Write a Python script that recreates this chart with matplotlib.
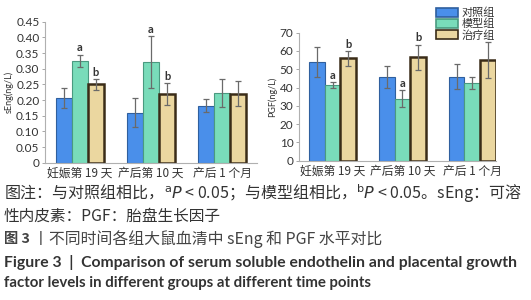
import matplotlib
matplotlib.use("Agg")
import matplotlib.pyplot as plt
from matplotlib.patches import Patch
import numpy as np

plt.rcParams['font.family'] = ['Noto Sans CJK SC', 'DejaVu Sans']

groups = ['对照组', '模型组', '治疗组']
timepoints = ['妊娠第 19 天', '产后第 10 天', '产后 1 个月']

seng_mean = {'对照组': [0.205, 0.160, 0.182],
             '模型组': [0.325, 0.320, 0.222],
             '治疗组': [0.250, 0.220, 0.220]}
seng_err = {'对照组': [0.032, 0.047, 0.020],
            '模型组': [0.020, 0.083, 0.045],
            '治疗组': [0.017, 0.035, 0.040]}
seng_sig = {'模型组': ['a', 'a', ''], '治疗组': ['b', 'b', '']}

pgf_mean = {'对照组': [54.0, 46.0, 46.0],
            '模型组': [41.5, 34.0, 42.5],
            '治疗组': [56.0, 56.5, 55.0]}
pgf_err = {'对照组': [8.0, 6.0, 7.0],
           '模型组': [1.5, 4.5, 3.5],
           '治疗组': [4.0, 7.0, 10.0]}
pgf_sig = {'模型组': ['a', 'a', ''], '治疗组': ['b', 'b', '']}

seng_ticks = [0, 0.05, 0.10, 0.15, 0.20, 0.25, 0.30, 0.35, 0.40, 0.45]
seng_ticklabels = ['0', '0.05', '0.10', '0.15', '0.20', '0.25', '0.30', '0.35', '0.40', '0.45']
pgf_ticks = [0, 10, 20, 30, 40, 50, 60, 70]

face = {'对照组': '#4a8fea', '模型组': '#79dcba', '治疗组': '#ebd7a0'}
edge = {'对照组': '#2f5f9e', '模型组': '#4a9a80', '治疗组': '#3a2c18'}
lw = {'对照组': 0.8, '模型组': 0.8, '治疗组': 1.8}

W, H = 531, 300
fig = plt.figure(figsize=(W / 100, H / 100), dpi=100)

def fx(px):
    return px / W

def fy(py):
    return 1 - py / H

axL = fig.add_axes([fx(45), fy(162.7), fx(257 - 45), (162.7 - 21.7) / H])
axR = fig.add_axes([fx(299), fy(160.7), fx(496 - 299), (160.7 - 32.7) / H])

bw = 0.225
offsets = [-bw, 0, bw]
txtcol = '#333333'

def draw(ax, mean, err, sig, ylim, yticks, yticklabels, ylabel, xlim, sigpad):
    x = np.arange(len(timepoints))
    for g, off in zip(groups, offsets):
        ax.bar(x + off, mean[g], bw, color=face[g], edgecolor=edge[g], linewidth=lw[g], zorder=2)
        ax.errorbar(x + off, mean[g], yerr=err[g], fmt='none', ecolor='#6a6a6a',
                    elinewidth=0.9, capsize=2.5, capthick=0.9, zorder=3)
        if g in sig:
            for i, s in enumerate(sig[g]):
                if s:
                    ax.text(x[i] + off, mean[g][i] + err[g][i] + sigpad, s, ha='center',
                            va='bottom', fontsize=8, color=txtcol, fontweight='bold',
                            family=['Lato', 'DejaVu Sans'])
    ax.set_xlim(*xlim)
    ax.set_ylim(*ylim)
    ax.set_yticks(yticks)
    ax.set_yticklabels(yticklabels, family=['Lato', 'DejaVu Sans'], fontsize=8.5, color=txtcol)
    ax.set_xticks(x)
    ax.set_xticklabels(timepoints, fontsize=8.5, color=txtcol)
    ax.tick_params(axis='x', length=0, pad=3)
    ax.tick_params(axis='y', length=2.5, width=0.6, color='#999999', pad=1.5)
    for s in ['top', 'right']:
        ax.spines[s].set_visible(False)
    for s in ['left', 'bottom']:
        ax.spines[s].set_color('#b0b0b0')
        ax.spines[s].set_linewidth(0.8)
    ax.set_ylabel(ylabel, fontsize=6.5, color=txtcol, labelpad=2, family=['Lato', 'DejaVu Sans'])

draw(axL, seng_mean, seng_err, seng_sig, (0, 0.45), seng_ticks, seng_ticklabels,
     'sEng(ng/L)', (-0.49, 2.49), 0.004)
draw(axR, pgf_mean, pgf_err, pgf_sig, (0, 70), pgf_ticks, [str(t) for t in pgf_ticks],
     'PGF(ng/L)', (-0.48, 2.34), 0.8)

handles = [Patch(facecolor=face[g], edgecolor=edge[g], linewidth=1.2) for g in groups]
fig.legend(handles, groups, loc='upper left', bbox_to_anchor=(fx(428), fy(0)),
           frameon=False, fontsize=8, handlelength=2.0, handleheight=0.8,
           handletextpad=0.3, labelspacing=0.05, borderpad=0.2,
           labelcolor=txtcol)

# caption lines
fig.canvas.draw()
renderer = fig.canvas.get_renderer()

def fit_text(xpx, ypx, s, target_w, size, **kw):
    t = fig.text(fx(xpx), fy(ypx), s, fontsize=size, va='center', ha='left', **kw)
    bb = t.get_window_extent(renderer=renderer)
    if bb.width > 0:
        t.set_fontsize(size * target_w / bb.width)
    return t

cjk = ['Noto Sans CJK SC', 'DejaVu Sans']
fit_text(4, 194, r'图注：与对照组相比，$^{\mathrm{a}}P$ < 0.05；与模型组相比，$^{\mathrm{b}}P$ < 0.05。sEng：可溶',
         518, 11, color='#333333', family=cjk)
fit_text(4, 216, '性内皮素：PGF：胎盘生长因子', 217, 11, color='#333333', family=cjk)
fit_text(4, 239, '图 3', 26, 11, color='#444444', family=cjk, fontweight='bold')
fit_text(33, 239, '丨不同时间各组大鼠血清中 sEng 和 PGF 水平对比', 349, 11, color='#444444', family=cjk)
fit_text(4, 262, 'Figure 3  |  Comparison of serum soluble endothelin and placental growth',
         512, 10, color='#333333', family=['Lato', 'DejaVu Sans'], fontweight='bold')
fit_text(4, 283, 'factor levels in different groups at different time points',
         368, 10, color='#333333', family=['Lato', 'DejaVu Sans'], fontweight='bold')

fig.savefig('out.png', dpi=100)
